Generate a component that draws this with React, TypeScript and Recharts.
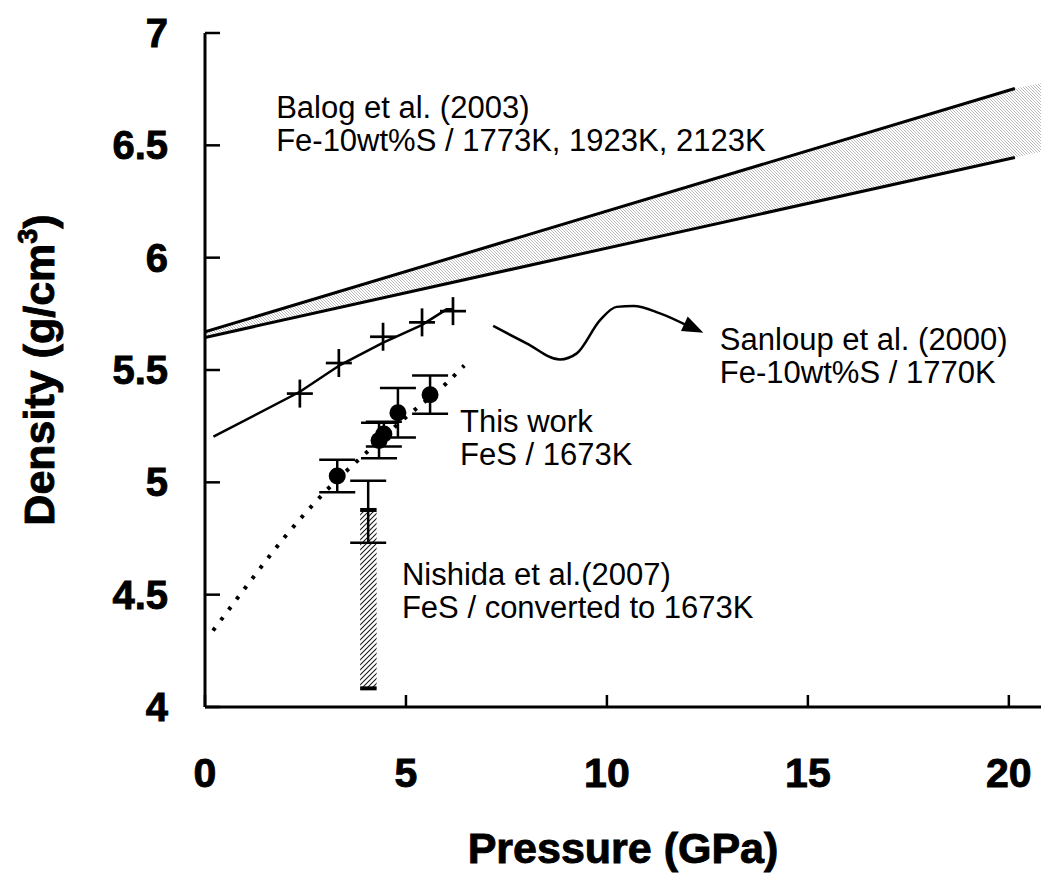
import React from 'react';
import {
  ComposedChart,
  XAxis,
  YAxis,
  Line,
  Area,
  Scatter,
  ErrorBar,
  ReferenceArea,
  ReferenceLine,
} from 'recharts';

const FONT = '"Liberation Sans", Arial, Helvetica, sans-serif';

// Axis ticks
const pressureTicks = [0, 5, 10, 15, 20];
const densityTicks = [4, 4.5, 5, 5.5, 6, 6.5, 7];

// Balog et al. (2003), Fe-10wt%S at 1773K / 1923K / 2123K: bounding lines
const balogUpper = [
  { p: 0, d: 5.67 },
  { p: 20.15, d: 6.753 },
];
const balogLower = [
  { p: 0, d: 5.645 },
  { p: 20.15, d: 6.446 },
];
// hatched band between the bounds
const balogBandP = [0, 20.15, 20.8];
const balogBandHigh = [5.67, 6.753, 6.776];
const balogBandLow = [5.645, 6.446, 6.471];

// Sanloup et al. (2000), Fe-10wt%S / 1770K
const sanloupPoints = [
  { p: 2.36, d: 5.395 },
  { p: 3.33, d: 5.531 },
  { p: 4.43, d: 5.648 },
  { p: 5.4, d: 5.712 },
  { p: 6.17, d: 5.762 },
];
const sanloupFit = [
  { p: 0.21, d: 5.203 },
  { p: 2.36, d: 5.403 },
  { p: 3.36, d: 5.522 },
  { p: 4.42, d: 5.621 },
  { p: 5.39, d: 5.7 },
  { p: 6.01, d: 5.77 },
  { p: 6.16, d: 5.77 },
];

// This work, FeS / 1673K
const thisWorkPoints = [
  { p: 3.29, d: 5.028, err: 0.072 },
  { p: 4.33, d: 5.186, err: 0.079 },
  { p: 4.45, d: 5.215, err: 0.055 },
  { p: 4.8, d: 5.31, err: 0.11 },
  { p: 5.6, d: 5.39, err: 0.085 },
];
const thisWorkFit = [
  { p: 0.2, d: 4.34 },
  { p: 1.0, d: 4.53 },
  { p: 2.0, d: 4.76 },
  { p: 3.0, d: 4.96 },
  { p: 4.0, d: 5.13 },
  { p: 5.0, d: 5.29 },
  { p: 6.0, d: 5.44 },
  { p: 6.45, d: 5.52 },
];

// Nishida et al. (2007), FeS converted to 1673K
const nishidaPoint = [{ p: 4.06, d: 4.869, err: 0.138 }];
const nishidaBoxP = [3.86, 4.27];
const nishidaBoxD = [4.083, 4.877];

// curved pointer to the Sanloup label
const pointerPath = [
  { p: 7.17, d: 5.696 },
  { p: 8.0, d: 5.619 },
  { p: 8.83, d: 5.547 },
  { p: 9.25, d: 5.574 },
  { p: 9.83, d: 5.722 },
  { p: 10.24, d: 5.781 },
  { p: 10.66, d: 5.785 },
  { p: 11.32, d: 5.752 },
  { p: 12.14, d: 5.685 },
];
const pointerTip = [{ p: 12.4, d: 5.666 }];

// text annotations, anchored at the first line's baseline start
const notes = [
  { p: 1.77, d: 6.622, lines: ['Balog et al. (2003)', 'Fe-10wt%S / 1773K, 1923K, 2123K'] },
  { p: 12.81, d: 5.589, lines: ['Sanloup et al. (2000)', 'Fe-10wt%S / 1770K'] },
  { p: 6.345, d: 5.225, lines: ['This work', 'FeS / 1673K'] },
  { p: 4.9, d: 4.543, lines: ['Nishida et al.(2007)', 'FeS / converted to 1673K'] },
];

const balogBand = balogBandP.map((p, i) => ({ p, d: [balogBandLow[i], balogBandHigh[i]] }));

const heavy = { stroke: '#000', strokeWidth: 0.9, paintOrder: 'stroke' as const };

const XTick = (props: any) => {
  const { x, y, payload } = props;
  return (
    <text x={x} y={y + 30} textAnchor="middle" fontFamily={FONT} fontWeight="bold" fontSize={41} fill="#000" {...heavy}>
      {payload.value}
    </text>
  );
};

const YTick = (props: any) => {
  const { x, y, payload } = props;
  return (
    <text x={x} y={y + 14} textAnchor="end" fontFamily={FONT} fontWeight="bold" fontSize={40} fill="#000" {...heavy}>
      {payload.value}
    </text>
  );
};

const XTitle = (props: any) => {
  const { viewBox } = props;
  return (
    <text
      x={viewBox.x + viewBox.width / 2}
      y={viewBox.y + 156}
      textAnchor="middle"
      fontFamily={FONT}
      fontWeight="bold"
      fontSize={43}
      fill="#000"
      {...heavy}
    >
      Pressure (GPa)
    </text>
  );
};

const YTitle = (props: any) => {
  const { viewBox } = props;
  const cx = 54;
  const cy = viewBox.y + viewBox.height / 2;
  return (
    <text
      x={cx}
      y={cy}
      transform={`rotate(-90 ${cx} ${cy})`}
      textAnchor="middle"
      fontFamily={FONT}
      fontWeight="bold"
      fontSize={43}
      fill="#000"
      {...heavy}
    >
      Density (g/cm
      <tspan dy={-17} fontSize={27}>3</tspan>
      <tspan dy={17}>)</tspan>
    </text>
  );
};

const CrossMark = (props: any) => {
  const { cx, cy } = props;
  return (
    <g stroke="#000" strokeWidth={2.7}>
      <line x1={cx - 13} y1={cy} x2={cx + 13} y2={cy} />
      <line x1={cx} y1={cy - 14} x2={cx} y2={cy + 14} />
    </g>
  );
};

const Dot = (props: any) => {
  const { cx, cy } = props;
  return <circle cx={cx} cy={cy} r={8.5} fill="#000" />;
};

const NoMark = () => <g />;

const ArrowHead = (props: any) => {
  const { cx, cy } = props;
  return (
    <polygon
      points={`${cx},${cy} ${cx - 21},${cy - 8} ${cx - 21},${cy + 8}`}
      transform={`rotate(25 ${cx} ${cy})`}
      fill="#000"
    />
  );
};

const Note = (props: any) => {
  const { cx, cy, payload } = props;
  return (
    <text x={cx} y={cy} fontFamily={FONT} fontSize={31} fill="#000">
      {payload.lines.map((l: string, i: number) => (
        <tspan key={i} x={cx} dy={i === 0 ? 0 : 33}>
          {l}
        </tspan>
      ))}
    </text>
  );
};

export default function App() {
  return (
    <div style={{ position: 'absolute', left: 0, top: 0, background: '#fff' }}>
      <ComposedChart width={1041} height={874} margin={{ top: 33, right: 0, bottom: 0, left: 0 }}>
        <defs>
          <pattern id="bandHatch" width={3} height={3} patternUnits="userSpaceOnUse">
            <path d="M0,0 L3,3 M-1,2 L1,4 M2,-1 L4,1" stroke="#b4b4b4" strokeWidth={0.9} />
          </pattern>
          <pattern id="boxHatch" width={5} height={5} patternUnits="userSpaceOnUse">
            <path d="M0,5 L5,0 M-1,1 L1,-1 M4,6 L6,4" stroke="#1a1a1a" strokeWidth={1.1} />
          </pattern>
        </defs>
        <XAxis
          type="number"
          dataKey="p"
          domain={[0, 20.8]}
          ticks={pressureTicks}
          allowDataOverflow
          height={167}
          axisLine={{ stroke: '#000', strokeWidth: 3 }}
          tickLine={{ stroke: '#000', strokeWidth: 2.5 }}
          tickSize={-12}
          tickMargin={62}
          tick={<XTick />}
          label={<XTitle />}
        />
        <YAxis
          type="number"
          domain={[4, 7]}
          ticks={densityTicks}
          allowDataOverflow
          width={205}
          axisLine={{ stroke: '#000', strokeWidth: 3 }}
          tickLine={{ stroke: '#000', strokeWidth: 2.5 }}
          tickSize={-15}
          tickMargin={52}
          tick={<YTick />}
          label={<YTitle />}
        />

        <Area
          data={balogBand}
          dataKey="d"
          type="linear"
          stroke="none"
          fill="url(#bandHatch)"
          fillOpacity={1}
          isAnimationActive={false}
        />
        <Line data={balogUpper} dataKey="d" type="linear" stroke="#000" strokeWidth={3} dot={false} isAnimationActive={false} />
        <Line data={balogLower} dataKey="d" type="linear" stroke="#000" strokeWidth={3} dot={false} isAnimationActive={false} />

        <Line data={sanloupFit} dataKey="d" type="linear" stroke="#000" strokeWidth={2.5} dot={false} isAnimationActive={false} />
        <Scatter data={sanloupPoints} dataKey="d" shape={<CrossMark />} isAnimationActive={false} />

        <Line
          data={thisWorkFit}
          dataKey="d"
          type="monotone"
          stroke="#000"
          strokeWidth={4}
          strokeDasharray="3.5 9.5"
          dot={false}
          isAnimationActive={false}
        />

        <ReferenceArea
          x1={nishidaBoxP[0]}
          x2={nishidaBoxP[1]}
          y1={nishidaBoxD[0]}
          y2={nishidaBoxD[1]}
          fill="url(#boxHatch)"
          fillOpacity={1}
          stroke="none"
        />
        <ReferenceLine
          segment={[
            { x: nishidaBoxP[0], y: nishidaBoxD[1] },
            { x: nishidaBoxP[1], y: nishidaBoxD[1] },
          ]}
          stroke="#000"
          strokeWidth={4}
        />
        <ReferenceLine
          segment={[
            { x: nishidaBoxP[0], y: nishidaBoxD[0] },
            { x: nishidaBoxP[1], y: nishidaBoxD[0] },
          ]}
          stroke="#000"
          strokeWidth={4}
        />
        <Scatter data={nishidaPoint} dataKey="d" shape={<NoMark />} isAnimationActive={false}>
          <ErrorBar dataKey="err" direction="y" width={18} stroke="#000" strokeWidth={2.5} />
        </Scatter>

        <Scatter data={thisWorkPoints} dataKey="d" shape={<Dot />} isAnimationActive={false}>
          <ErrorBar dataKey="err" direction="y" width={18} stroke="#000" strokeWidth={2.5} />
        </Scatter>

        <Line data={pointerPath} dataKey="d" type="monotoneX" stroke="#000" strokeWidth={2.5} dot={false} isAnimationActive={false} />
        <Scatter data={pointerTip} dataKey="d" shape={<ArrowHead />} isAnimationActive={false} />

        <Scatter data={notes} dataKey="d" shape={<Note />} isAnimationActive={false} />
      </ComposedChart>
    </div>
  );
}
